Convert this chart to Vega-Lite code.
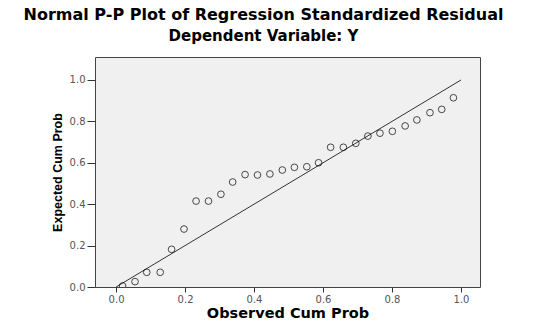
{
  "$schema": "https://vega.github.io/schema/vega-lite/v6.json",
  "width": 385,
  "height": 230,
  "autosize": {"type": "none"},
  "padding": {"left": 95, "top": 57, "right": 53, "bottom": 35},
  "background": "white",
  "title": {
    "text": "Normal P-P Plot of Regression Standardized Residual",
    "subtitle": "Dependent Variable: Y",
    "anchor": "middle",
    "frame": "group",
    "dx": -24,
    "offset": 13,
    "font": "DejaVu Sans",
    "fontSize": 16,
    "fontWeight": "bold",
    "color": "#000000",
    "subtitleFont": "DejaVu Sans",
    "subtitleFontSize": 15,
    "subtitleFontWeight": "bold",
    "subtitleColor": "#000000",
    "subtitlePadding": 6
  },
  "config": {
    "view": {"fill": "#f0f0f0", "stroke": "#444444", "strokeWidth": 1},
    "axis": {
      "grid": false,
      "domain": false,
      "tickColor": "#333333",
      "tickSize": 5,
      "labelFont": "DejaVu Sans",
      "labelFontSize": 10,
      "labelColor": "#555555",
      "titleFontWeight": "bold",
      "titleColor": "#000000"
    }
  },
  "datasets": {
    "points": [
      {"observed": 0.019, "expected": 0.005},
      {"observed": 0.055, "expected": 0.026},
      {"observed": 0.089, "expected": 0.071},
      {"observed": 0.128, "expected": 0.071},
      {"observed": 0.161, "expected": 0.182},
      {"observed": 0.197, "expected": 0.280},
      {"observed": 0.232, "expected": 0.415},
      {"observed": 0.268, "expected": 0.415},
      {"observed": 0.304, "expected": 0.448},
      {"observed": 0.338, "expected": 0.507},
      {"observed": 0.374, "expected": 0.543},
      {"observed": 0.410, "expected": 0.541},
      {"observed": 0.446, "expected": 0.546},
      {"observed": 0.482, "expected": 0.565},
      {"observed": 0.517, "expected": 0.578},
      {"observed": 0.553, "expected": 0.581},
      {"observed": 0.587, "expected": 0.600},
      {"observed": 0.622, "expected": 0.675},
      {"observed": 0.659, "expected": 0.675},
      {"observed": 0.695, "expected": 0.694},
      {"observed": 0.730, "expected": 0.729},
      {"observed": 0.765, "expected": 0.743},
      {"observed": 0.801, "expected": 0.752},
      {"observed": 0.838, "expected": 0.778},
      {"observed": 0.872, "expected": 0.807},
      {"observed": 0.910, "expected": 0.842},
      {"observed": 0.944, "expected": 0.858},
      {"observed": 0.978, "expected": 0.914}
    ],
    "diagonal": [
      {"observed": 0, "expected": 0},
      {"observed": 1, "expected": 1}
    ]
  },
  "layer": [
    {
      "data": {"name": "diagonal"},
      "mark": {"type": "line", "color": "#333333", "strokeWidth": 1, "clip": true},
      "encoding": {
        "x": {"field": "observed", "type": "quantitative"},
        "y": {"field": "expected", "type": "quantitative"}
      }
    },
    {
      "data": {"name": "points"},
      "mark": {"type": "point", "shape": "circle", "filled": false, "color": "#000000", "size": 45, "strokeWidth": 1, "clip": true},
      "encoding": {
        "x": {
          "field": "observed",
          "type": "quantitative",
          "scale": {"domain": [-0.061, 1.055], "nice": false, "zero": false},
          "axis": {
            "title": "Observed Cum Prob",
            "values": [0, 0.2, 0.4, 0.6, 0.8, 1.0],
            "format": ".1f",
            "titleFont": "DejaVu Sans",
            "titleFontSize": 14.5,
            "titlePadding": 2,
            "labelPadding": 2
          }
        },
        "y": {
          "field": "expected",
          "type": "quantitative",
          "scale": {"domain": [0, 1.111], "nice": false},
          "axis": {
            "title": "Expected Cum Prob",
            "values": [0, 0.2, 0.4, 0.6, 0.8, 1.0],
            "format": ".1f",
            "tickSize": 8,
            "titleFont": "Liberation Sans",
            "titleFontSize": 12.5,
            "titlePadding": 5,
            "labelPadding": 2
          }
        }
      }
    }
  ]
}
